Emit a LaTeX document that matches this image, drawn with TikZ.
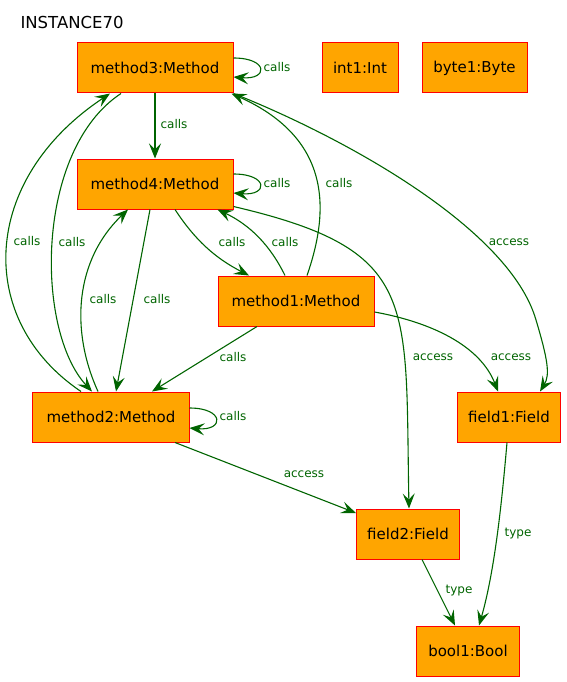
\documentclass[tikz,border=0pt]{standalone}
\usepackage{fontspec}
\setmainfont{DejaVu Sans}
\usetikzlibrary{arrows.meta}
\definecolor{objfill}{RGB}{255,165,0}
\definecolor{relgreen}{RGB}{0,100,0}
\tikzset{
  every picture/.style={font=\fontsize{15bp}{18bp}\selectfont},
  obj/.style={draw=red,fill=objfill,line width=1bp,minimum height=50bp,inner sep=0pt},
  rel/.style={relgreen,line width=1.1bp,-{Stealth[length=15bp,width=12bp,inset=6bp]}},
  lbl/.style={relgreen,font=\fontsize{12bp}{14bp}\selectfont},
}

\begin{document}
\begin{tikzpicture}[x=1bp,y=-1bp]
  \useasboundingbox (0,0) rectangle (567,682);
  \node[anchor=west,font=\fontsize{16.5bp}{20bp}\selectfont] (title) at (17,22) {INSTANCE70};
  % objects
  \node[obj,minimum width=156bp] (m3) at (155,68) {method3:Method};
  \node[obj,minimum width=76bp] (int1) at (360,68) {int1:Int};
  \node[obj,minimum width=105bp] (byte1) at (474.5,68) {byte1:Byte};
  \node[obj,minimum width=156bp] (m4) at (155,184) {method4:Method};
  \node[obj,minimum width=156bp] (m1) at (296,301) {method1:Method};
  \node[obj,minimum width=156bp] (m2) at (111,417) {method2:Method};
  \node[obj,minimum width=103bp] (f1) at (509,417) {field1:Field};
  \node[obj,minimum width=103bp] (f2) at (408,534) {field2:Field};
  \node[obj,minimum width=103bp] (b1) at (468,651) {bool1:Bool};
  % self calls
  \draw[rel] ([yshift=10bp]m3.east) .. controls +(35,0) and +(35,3) .. ([yshift=-9bp]m3.east);
  \draw[rel] ([yshift=10bp]m4.east) .. controls +(35,0) and +(35,3) .. ([yshift=-9bp]m4.east);
  \draw[rel] ([yshift=9bp]m2.east) .. controls +(35,0) and +(35,3) .. ([yshift=-11bp]m2.east);
  \node[lbl] (l1) at (277,67) {calls};
  \node[lbl] (l2) at (277,183) {calls};
  \node[lbl] (l3) at (233,416) {calls};
  % calls between methods
  \draw[rel] (m3) -- (m4);
  \node[lbl] (l4) at (174,124) {calls};
  \draw[rel] ([xshift=20bp]m4.south) .. controls (195,240) and (215,258) .. ([xshift=-47bp]m1.north);
  \node[lbl] (l5) at (232,242) {calls};
  \draw[rel] ([xshift=-11bp]m1.north) .. controls (270,245) and (250,225) .. ([xshift=-16bp]m4.south east);
  \node[lbl] (l6) at (285,242) {calls};
  \draw[rel] ([xshift=11bp]m1.north) .. controls (328,215) and (335,140) .. ([xshift=-2bp]m3.south east);
  \node[lbl] (l7) at (339,183) {calls};
  \draw[rel] ([xshift=-5bp]m4.south) -- ([xshift=5bp]m2.north);
  \node[lbl] (l8) at (157,299) {calls};
  \draw[rel] ([xshift=-13bp]m2.north) .. controls (70,330) and (75,260) .. ([xshift=-27bp]m4.south);
  \node[lbl] (l9) at (103,299) {calls};
  \draw[rel] ([xshift=-34bp]m3.south) .. controls (35,150) and (35,330) .. ([xshift=-19bp]m2.north);
  \node[lbl] (l10) at (72,242) {calls};
  \draw[rel] ([xshift=-30bp]m2.north) .. controls (-25,320) and (-20,180) .. ([xshift=-45bp]m3.south);
  \node[lbl] (l11) at (27,241) {calls};
  \draw[rel] ([xshift=-39bp]m1.south) -- ([xshift=41bp]m2.north);
  \node[lbl] (l12) at (233,357) {calls};
  % field access
  \draw[rel] (m3.south east) .. controls (350,140) and (510,230) .. (536,320)
    .. controls (548,360) and (550,375) .. ([xshift=31bp]f1.north);
  \node[lbl] (l13) at (509,242) {access};
  \draw[rel] ([yshift=-11bp]m1.east) .. controls (430,322) and (480,345) .. ([xshift=-11bp]f1.north);
  \node[lbl] (l14) at (511,357) {access};
  \draw[rel] ([yshift=3bp]m4.south east) .. controls (420,250) and (405,300) .. ([xshift=1bp]f2.north);
  \node[lbl] (l15) at (433,357) {access};
  \draw[rel] ([xshift=64bp]m2.south) -- ([yshift=21bp]f2.west);
  \node[lbl] (l16) at (304,474) {access};
  % types
  \draw[rel] ([xshift=-2bp]f1.south) .. controls (502,500) and (495,570) .. ([xshift=11bp]b1.north);
  \node[lbl] (l17) at (518,534) {type};
  \draw[rel] ([xshift=14bp]f2.south) -- ([xshift=-13bp]b1.north);
  \node[lbl] (l18) at (459,591) {type};
\end{tikzpicture}
\end{document}
